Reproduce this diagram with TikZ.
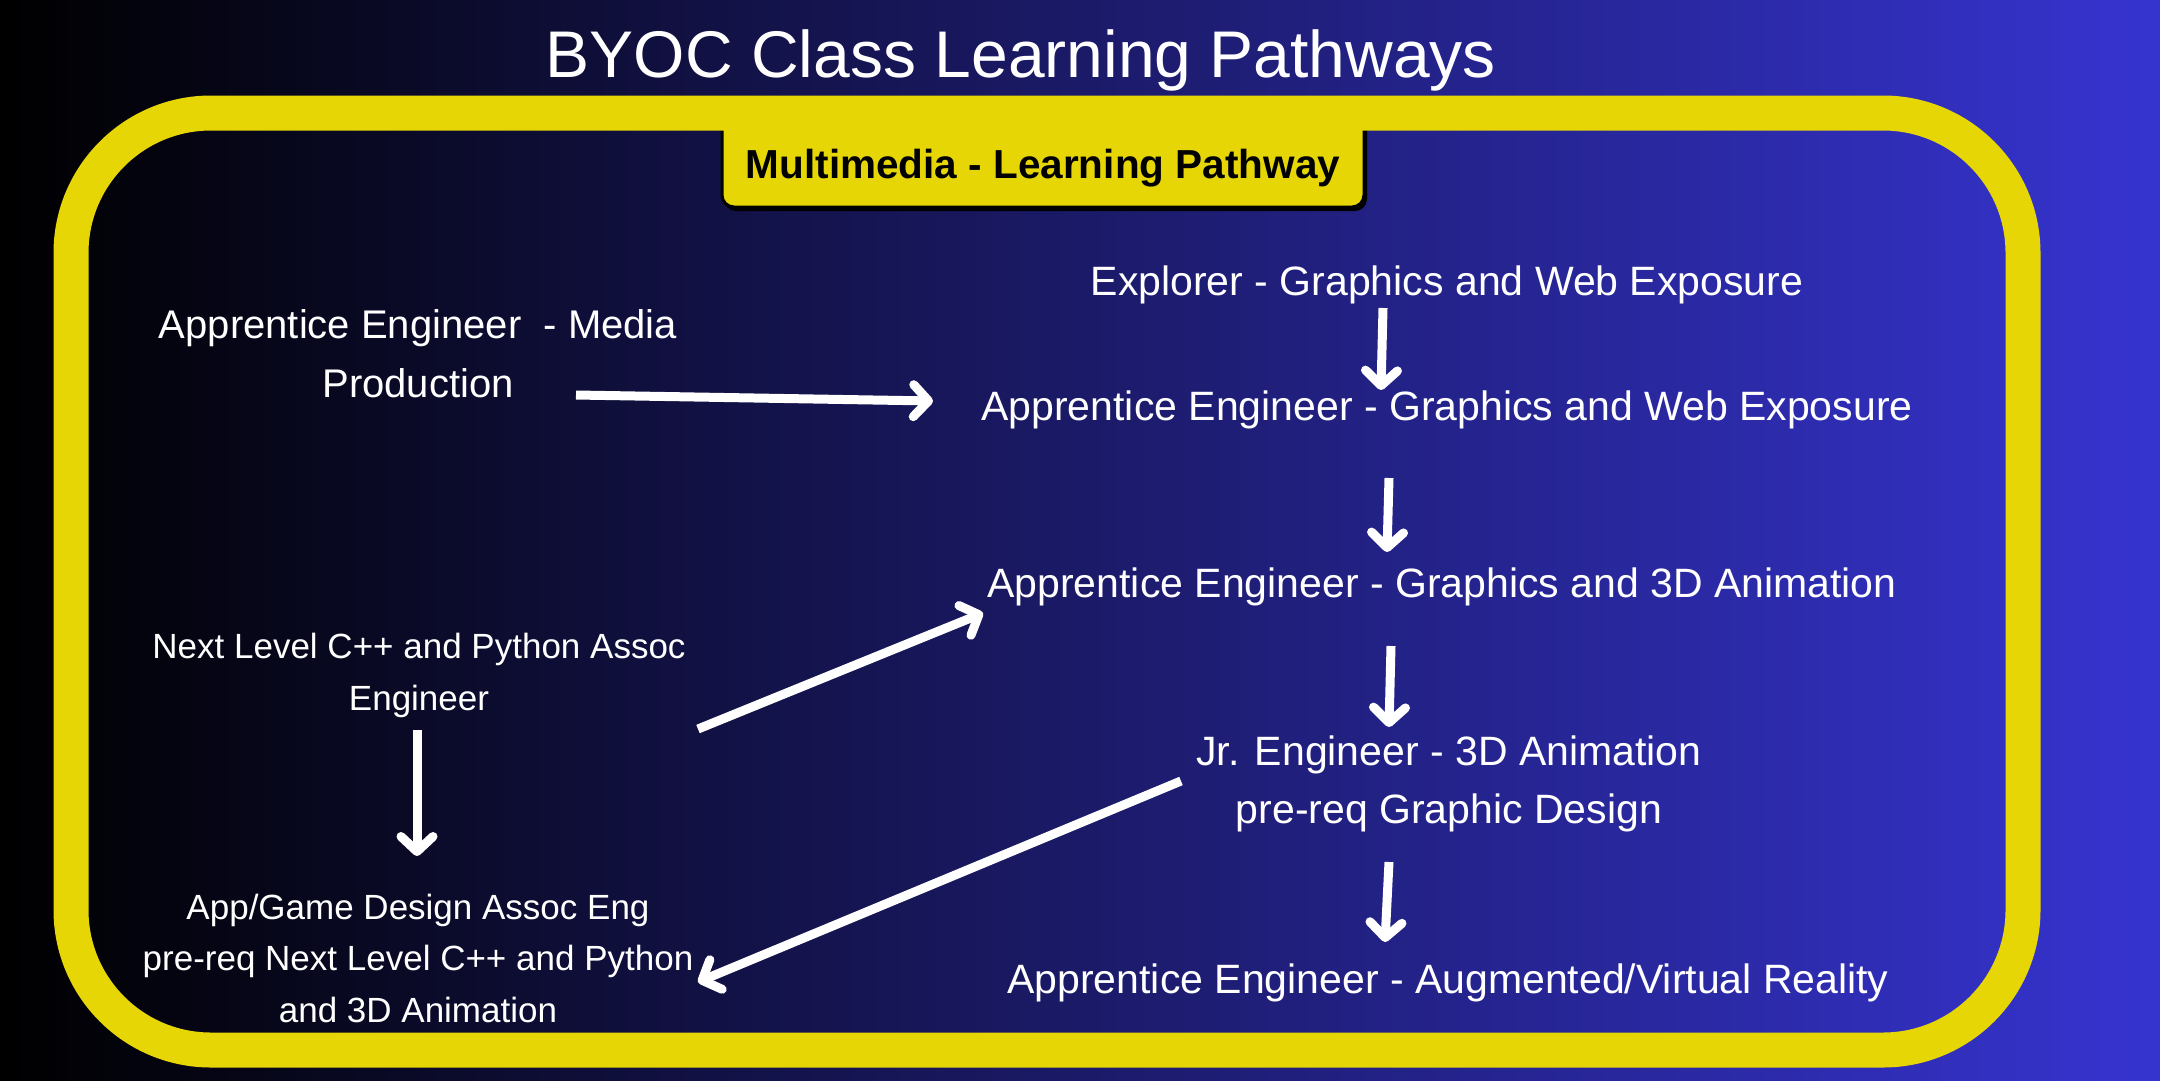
\documentclass[tikz,border=0pt]{standalone}
\usepackage{fontspec}
\setmainfont{Liberation Sans}
\usetikzlibrary{arrows.meta}
\definecolor{bgR}{RGB}{54,52,208}
\definecolor{ylw}{RGB}{230,214,6}
\begin{document}
\begin{tikzpicture}[x=1pt,y=-1pt,
  lbl/.style={text=white, inner sep=0pt, align=center, anchor=base, font=\fontsize{41}{58}\selectfont},
  smalllbl/.style={lbl, font=\fontsize{35}{51.5}\selectfont},
  arr/.style={draw=white, line width=9pt, -{Straight Barb[length=15pt,width=32pt,round]}},
  frame/.style={draw=ylw, line width=35pt, rounded corners=140pt},
  hdrbox/.style={fill=ylw, draw=black, line width=3pt, rounded corners=12pt}]
\useasboundingbox (0,0) rectangle (2160,1080);
\shade[left color=black, right color=bgR] (0,0) rectangle (2160,1080);
% header box (drawn under the frame)
\fill[black, rounded corners=12pt] (724,100) rectangle (1367,211);
\draw[hdrbox] (722,100) rectangle (1364,207);
\draw[frame] (71,113) rectangle (2023,1050);
% title and header text
\node[text=white, inner sep=0pt, anchor=base, font=\fontsize{66}{79}\selectfont] (title) at (1021,77) {BYOC Class Learning Pathways};
\node[text=black, inner sep=0pt, anchor=base, font=\fontsize{40.5}{48}\selectfont\bfseries] (hdr) at (1043,178) {Multimedia - Learning Pathway};
% nodes (for multi-line nodes the base anchor is the last line's baseline)
\node[lbl, font=\fontsize{40}{59}\selectfont] (media) at (418,397) {Apprentice Engineer\ \ - Media\\Production};
\node[lbl] (explorer) at (1447,295) {Explorer - Graphics and Web Exposure};
\node[lbl] (agw) at (1447,420) {Apprentice Engineer - Graphics and Web Exposure};
\node[lbl] (a3d) at (1442,597) {Apprentice Engineer - Graphics and 3D Animation};
\node[smalllbl, font=\fontsize{35}{52}\selectfont] (next) at (419,710) {Next Level C++ and Python Assoc\\Engineer};
\node[lbl] (jr) at (1449,823) {Jr. Engineer - 3D Animation\\pre-req Graphic Design};
\node[smalllbl] (app) at (418,1022) {App/Game Design Assoc Eng\\pre-req Next Level C++ and Python\\and 3D Animation};
\node[lbl] (avr) at (1448,993) {Apprentice Engineer - Augmented/Virtual Reality};
% connectors
\draw[arr] ([shift={(158,-2)}]media.base) -- ([shift={(-514,-19)}]agw.base);
\draw[arr] ([shift={(-64,13)}]explorer.base) -- ([shift={(-66,-30)}]agw.base);
\draw[arr] ([shift={(-58,58)}]agw.base) -- ([shift={(-55,-45)}]a3d.base);
\draw[arr] ([shift={(-51,49)}]a3d.base) -- ([shift={(-60,-96)}]jr.base);
\draw[arr] ([shift={(-60,39)}]jr.base) -- ([shift={(-63,-51)}]avr.base);
\draw[arr] ([shift={(279,19)}]next.base) -- ([shift={(-459,16)}]a3d.base);
\draw[arr] ([shift={(-2,20)}]next.base) -- ([shift={(-1,-166)}]app.base);
\draw[arr] ([shift={(-268,-42)}]jr.base) -- ([shift={(280,-40)}]app.base);
\end{tikzpicture}
\end{document}
